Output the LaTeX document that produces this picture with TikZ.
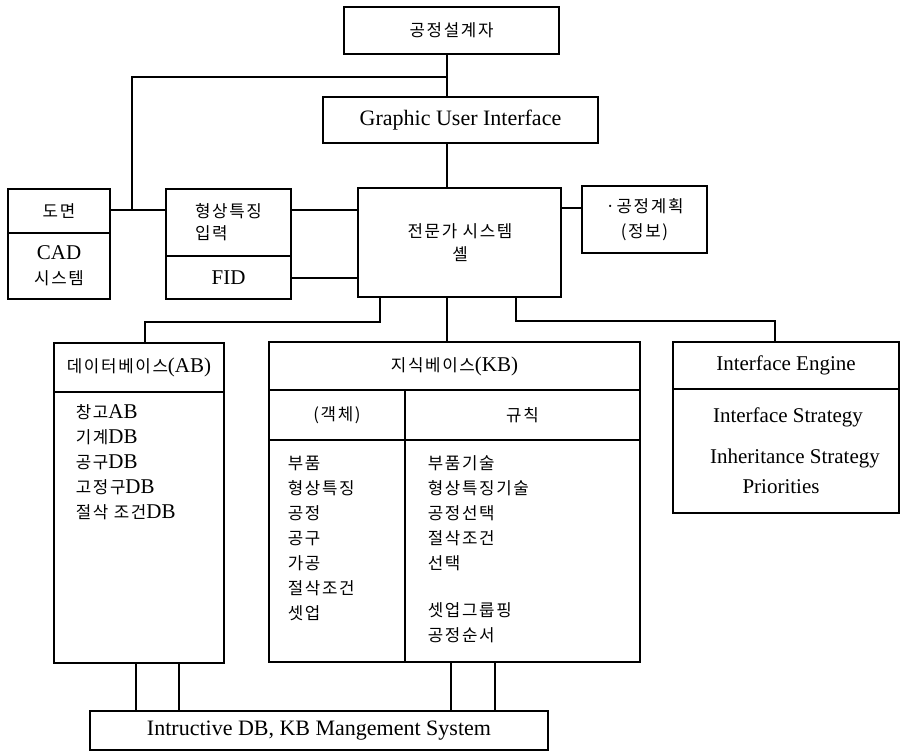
\documentclass[tikz,border=0pt]{standalone}
\usepackage{fontspec}
\setmainfont{Liberation Serif}
\newfontfamily\kr[Scale=0.8,LetterSpace=10]{Noto Sans CJK KR}
\newcommand{\ko}[1]{{\kr #1}}
\usetikzlibrary{positioning}
\tikzset{
  box/.style={draw,anchor=north west,inner sep=0pt,outer sep=0pt,align=center},
  boxwh/.style 2 args={box,minimum width=#1pt,minimum height=#2pt},
  txt/.style={inner sep=0pt,align=left}
}

\begin{document}
\begin{tikzpicture}[x=1pt,y=-1pt,line width=1.5pt,
  every node/.style={font=\fontsize{21}{25}\selectfont}]
  \useasboundingbox (0,0) rectangle (902,752);

  % boxes
  \node[boxwh={215}{47}] (designer) at (344,7) {\ko{공정설계자}};
  \node[boxwh={275}{46},font=\fontsize{22}{25}\selectfont] (gui) at (323,97) {Graphic User Interface};
  \node[boxwh={203}{109}] (expert) at (358,188) {};
  \node[txt,align=center] (expertT) at (460,243) {\ko{전문가 시스템}\\[-2pt]\ko{셸}};

  \node[boxwh={102}{44}] (dwgTop) at (8,189) {\ko{도면}};
  \node[boxwh={102}{66}] (dwgBot) at (8,233) {CAD\\\ko{시스템}};
  \node[boxwh={125}{67},align=left] (featTop) at (166,189) {\ko{형상특징}\\[-3pt]\ko{입력}};
  \node[boxwh={125}{43}] (featBot) at (166,256) {FID};
  \node[boxwh={125}{67}] (plan) at (582,186) {\ko{·공정계획}\\\ko{(정보)}};

  \node[boxwh={170}{49}] (dbTop) at (54,343) {\ko{데이터베이스}(AB)};
  \node[boxwh={170}{271}] (dbBot) at (54,392) {};
  \node[txt,anchor=north west] (dbList) at (75,404)
    {\ko{창고}AB\\\ko{기계}DB\\\ko{공구}DB\\\ko{고정구}DB\\\ko{절삭 조건}DB};

  \node[boxwh={371}{48}] (kbTop) at (269,342) {\ko{지식베이스}(KB)};
  \node[boxwh={136}{50}] (kbHL) at (269,390) {\ko{(객체)}};
  \node[boxwh={235}{50}] (kbHR) at (405,390) {\ko{규칙}};
  \node[boxwh={136}{222}] (kbL) at (269,440) {};
  \node[boxwh={235}{222}] (kbR) at (405,440) {};
  \node[txt,anchor=north west] (objList) at (287,455)
    {\ko{부품}\\\ko{형상특징}\\\ko{공정}\\\ko{공구}\\\ko{가공}\\\ko{절삭조건}\\\ko{셋업}};
  \node[txt,anchor=north west] (ruleList) at (427,455)
    {\ko{부품기술}\\\ko{형상특징기술}\\\ko{공정선택}\\\ko{절삭조건}\\\ko{선택}\\[22pt]\ko{셋업그룹핑}\\\ko{공정순서}};

  \node[boxwh={226}{47}] (ieTop) at (673,342) {Interface Engine};
  \node[boxwh={226}{124}] (ieBot) at (673,389) {};
  \node[txt] (ie1) at (788,417) {Interface Strategy};
  \node[txt] (ie2) at (795,458) {Inheritance Strategy};
  \node[txt] (ie3) at (781,487) {Priorities};

  \node[boxwh={458}{39},font=\fontsize{22}{25}\selectfont] (sys) at (90,711) {Intructive DB, KB Mangement System};

  % connectors
  \coordinate (jA) at (447,77);
  \coordinate (jD) at (132,210);
  \coordinate (jB) at (380,322);
  \coordinate (jC) at (516,321);
  \draw (jA |- designer.south) -- (jA |- gui.north);
  \draw (jA) -| (jD);
  \draw ([yshift=-21pt]dwgTop.north east) -- ([yshift=-21pt]featTop.north west);
  \draw ([yshift=-21pt]featTop.north east) -- ([yshift=-21pt]featTop.north east -| expert.west);
  \draw ([yshift=-0.5pt]featBot.east) -- ([yshift=-0.5pt]featBot.east -| expert.west);
  \draw (jA |- gui.south) -- (jA |- expert.north);
  \draw ([yshift=-22pt]plan.north west) -- ([yshift=-22pt]plan.north west -| expert.east);
  \draw (expert.south -| jB) -- (jB) -| ([xshift=6pt]dbTop.north);
  \draw (jA |- expert.south) -- (jA |- kbTop.north);
  \draw (expert.south -| jC) -- (jC) -| ([xshift=-11pt]ieTop.north);
  \draw ([xshift=-3pt]dbBot.south) -- ([xshift=-3pt]dbBot.south |- sys.north);
  \draw ([xshift=40pt]dbBot.south) -- ([xshift=40pt]dbBot.south |- sys.north);
  \draw ([xshift=-71.5pt]kbR.south) -- ([xshift=-71.5pt]kbR.south |- sys.north);
  \draw ([xshift=-27.5pt]kbR.south) -- ([xshift=-27.5pt]kbR.south |- sys.north);
\end{tikzpicture}
\end{document}
